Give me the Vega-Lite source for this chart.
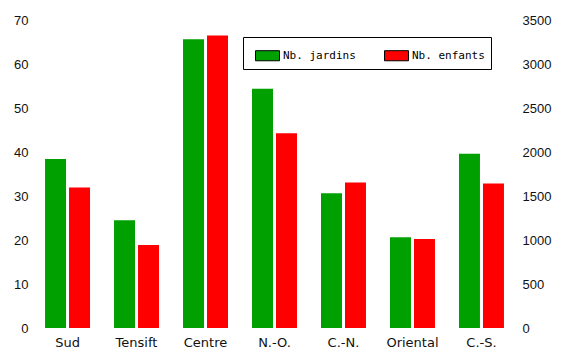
{
  "$schema": "https://vega.github.io/schema/vega-lite/v6.json",
  "width": 481,
  "height": 308,
  "autosize": {"type": "none"},
  "padding": {"left": 34, "top": 20, "right": 48, "bottom": 23},
  "background": "white",
  "data": {
    "values": [
      {"region": "Sud", "serie": "Nb. jardins", "valeur": 38.4},
      {"region": "Sud", "serie": "Nb. enfants", "valeur": 1596},
      {"region": "Tensift", "serie": "Nb. jardins", "valeur": 24.5},
      {"region": "Tensift", "serie": "Nb. enfants", "valeur": 942},
      {"region": "Centre", "serie": "Nb. jardins", "valeur": 65.6},
      {"region": "Centre", "serie": "Nb. enfants", "valeur": 3324},
      {"region": "N.-O.", "serie": "Nb. jardins", "valeur": 54.4},
      {"region": "N.-O.", "serie": "Nb. enfants", "valeur": 2212},
      {"region": "C.-N.", "serie": "Nb. jardins", "valeur": 30.6},
      {"region": "C.-N.", "serie": "Nb. enfants", "valeur": 1653},
      {"region": "Oriental", "serie": "Nb. jardins", "valeur": 20.6},
      {"region": "Oriental", "serie": "Nb. enfants", "valeur": 1010},
      {"region": "C.-S.", "serie": "Nb. jardins", "valeur": 39.6},
      {"region": "C.-S.", "serie": "Nb. enfants", "valeur": 1642}
    ]
  },
  "config": {
    "view": {"stroke": null},
    "axis": {
      "grid": false,
      "domain": false,
      "ticks": false,
      "title": null,
      "labelFont": "Liberation Sans",
      "labelFontSize": 13,
      "labelColor": "#111111"
    }
  },
  "encoding": {
    "x": {
      "field": "region",
      "type": "nominal",
      "sort": ["Sud", "Tensift", "Centre", "N.-O.", "C.-N.", "Oriental", "C.-S."],
      "scale": {"paddingInner": 0.348, "paddingOuter": 0.16},
      "axis": {"labelAngle": 0, "labelFont": "DejaVu Sans", "labelFontSize": 13, "labelPadding": 8, "title": null}
    },
    "xOffset": {
      "field": "serie",
      "type": "nominal",
      "scale": {"domain": ["Nb. jardins", "Nb. enfants"], "paddingInner": 0.125, "paddingOuter": 0}
    },
    "color": {
      "field": "serie",
      "type": "nominal",
      "scale": {"domain": ["Nb. jardins", "Nb. enfants"], "range": ["#00a000", "#ff0000"]},
      "legend": {
        "title": null,
        "orient": "none",
        "legendX": 209,
        "legendY": 17,
        "direction": "horizontal",
        "columns": 2,
        "columnPadding": 22,
        "symbolType": "M-1,-0.42h2v0.84h-2z",
        "symbolSize": 576,
        "symbolStrokeColor": "black",
        "symbolStrokeWidth": 1,
        "symbolOpacity": 1,
        "symbolOffset": 6,
        "labelFont": "DejaVu Sans Mono",
        "labelFontSize": 11,
        "labelColor": "black",
        "labelOffset": 3,
        "padding": 6,
        "strokeColor": "black",
        "fillColor": "white",
        "cornerRadius": 0
      }
    }
  },
  "layer": [
    {
      "transform": [{"filter": "datum.serie === 'Nb. jardins'"}],
      "mark": {"type": "bar"},
      "encoding": {
        "y": {
          "field": "valeur",
          "type": "quantitative",
          "scale": {"domain": [0, 70]},
          "axis": {"values": [0, 10, 20, 30, 40, 50, 60, 70], "labelPadding": 6, "title": null}
        }
      }
    },
    {
      "transform": [{"filter": "datum.serie === 'Nb. enfants'"}],
      "mark": {"type": "bar"},
      "encoding": {
        "y": {
          "field": "valeur",
          "type": "quantitative",
          "scale": {"domain": [0, 3500]},
          "axis": {"orient": "right", "format": "d", "values": [0, 500, 1000, 1500, 2000, 2500, 3000, 3500], "labelPadding": 7, "title": null}
        }
      }
    }
  ],
  "resolve": {"scale": {"y": "independent"}}
}
